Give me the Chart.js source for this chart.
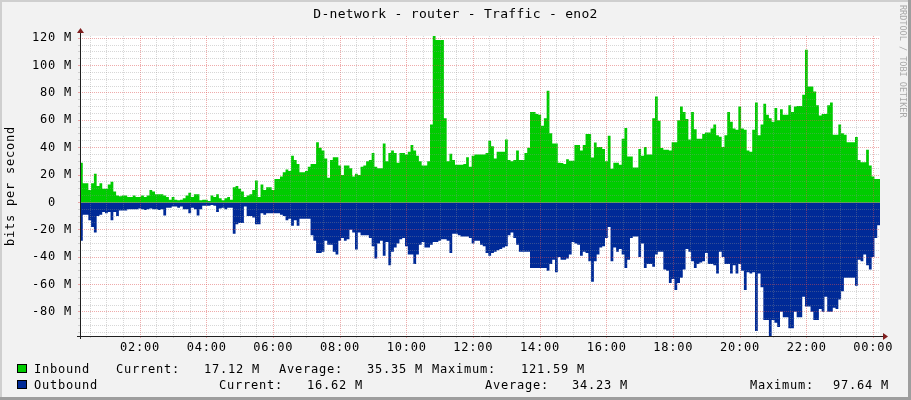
<!DOCTYPE html>
<html><head><meta charset="utf-8">
<script src="https://cdn.jsdelivr.net/npm/chart.js@4/dist/chart.umd.min.js"></script>
<style>
html,body{margin:0;padding:0;background:#F2F2F2;}
#wrap{position:relative;width:911px;height:400px;background:#F2F2F2;overflow:hidden;font-family:'DejaVu Sans Mono',monospace;color:#000;}
#c{position:absolute;left:0;top:0;}
.bt{position:absolute;left:0;top:0;width:911px;height:2px;background:#CFCFCF;}
.bl{position:absolute;left:0;top:0;width:2px;height:400px;background:#CFCFCF;}
.br{position:absolute;right:0;top:0;width:3px;height:400px;background:#9E9E9E;}
.bb{position:absolute;left:0;bottom:0;width:911px;height:3px;background:#9E9E9E;}
.t{position:absolute;font-size:12px;line-height:14px;letter-spacing:0.78px;white-space:pre;}
.title{position:absolute;left:0;top:6px;width:911px;text-align:center;font-size:13px;line-height:15px;letter-spacing:0.3px;white-space:pre;}
.box{position:absolute;width:8px;height:7px;border:1px solid #000;}
.wm{position:absolute;left:897px;top:5px;font-size:8.5px;line-height:11px;color:#A8A8A8;writing-mode:vertical-rl;white-space:pre;}
</style>
</head><body>
<div id="wrap">
  <div class="bt"></div><div class="bl"></div><div class="br"></div><div class="bb"></div>
  <canvas id="c" width="911" height="400"></canvas>
  <div class="title">D-network - router - Traffic - eno2</div>
  <div class="wm">RRDTOOL / TOBI OETIKER</div>
  <div class="box" style="left:17px;top:364px;background:#00CC00;"></div>
  <div class="t" style="left:34px;top:362px;">Inbound</div>
  <div class="t" style="left:116px;top:362px;">Current:</div>
  <div class="t" style="left:204px;top:362px;">17.12 M</div>
  <div class="t" style="left:279px;top:362px;">Average:</div>
  <div class="t" style="left:367px;top:362px;">35.35 M</div>
  <div class="t" style="left:432px;top:362px;">Maximum:</div>
  <div class="t" style="left:521px;top:362px;">121.59 M</div>
  <div class="box" style="left:17px;top:380px;background:#002A97;"></div>
  <div class="t" style="left:34px;top:378px;">Outbound</div>
  <div class="t" style="left:219px;top:378px;">Current:</div>
  <div class="t" style="left:307px;top:378px;">16.62 M</div>
  <div class="t" style="left:485px;top:378px;">Average:</div>
  <div class="t" style="left:572px;top:378px;">34.23 M</div>
  <div class="t" style="left:750px;top:378px;">Maximum:</div>
  <div class="t" style="left:833px;top:378px;">97.64 M</div>
</div>
<script>
// time axis: minutes since midnight of the first day
const START_MIN = 12;   // 00:12
const STEP_MIN = 5;     // 5-minute samples
const END_MIN = 1452;   // 00:12 next day

// Inbound traffic (Mbit/s)
const inbound = [29,14,14,9,14,21,12,14,10,10,
13,15,8,5,4.5,5,5,4,4,5,
4,4,5,4,5,9,8,6,6,6,
5,4,2,4,2,1.5,2,3,5,7,
4,6,6,1.5,2,2,1,5,4,6,
3,1.5,3,4,2,11,12,10,8,4,
5,6,9,16,4,13,9,11,11,9,
17,17,19,22,24,23,34,31,28,22,
22,23,26,28,28,44,40,38,32,18,
31,33,33,27,20,27,27,25,19,21,
20,26,27,30,31,36,26,25,25,43,
30,36,38,36,29,36,36,35,37,42,
38,34,30,27,27,30,57,121.59,118.7,118.7,
118.7,61.5,30,35.5,31,27.5,27.5,27.5,28,33,
26,34,35,35,35,35,36,45,41,32,
37,37,37,46,31,30,31,38,31,31,
36,40,66,66,64.5,64,56,61.5,81.5,50.6,
43,43,29,28.7,28,31.6,30.4,30.4,42,42,
38,42,50,50,32.8,43.8,40.4,40.4,39,30,
48.7,24.6,29,29,27.5,46.5,54.3,33.6,33.6,25.5,
25.5,39,34,40.4,35,35,61.5,77.4,59.6,39.7,
38.4,38.4,38,44,44,60,70,66,61,46,
66,53.5,46.5,46.5,50,51,51,54,57,49,
48,40.4,49,66,59,54,53,70,54,53,
38,37,53,73,49,57,72,64,61.5,59,
69,60,68,64,64,71,66,70,70.5,70.5,
78.6,111.5,84.7,84.7,81,71,63.5,64.5,64.5,71,
73,49.4,49.4,57,50.6,49.4,44,44,44,47.7,
31,29.4,29.4,38.4,27,19,17,17.12];

// Outbound traffic (Mbit/s, drawn negative)
const outbound = [-28,-9,-9,-13,-18,-22,-10,-9,-7,-8,
-7,-13,-7,-10,-6,-6,-6,-5,-5,-5,
-5,-4.5,-5,-5.5,-5,-4.5,-5,-5,-5.5,-5,
-9.5,-4,-4,-3,-3,-4,-3,-5,-5,-8,
-4,-5,-9.5,-5,-2.5,-2.5,-2.5,-2,-2.5,-7,
-4.5,-4,-5,-4,-4,-23,-16,-15,-15,-3,
-10,-10,-11,-16,-16,-8,-9,-8,-8,-8,
-8,-8,-9,-10,-13,-12,-17,-13,-17,-12,
-12,-12,-12,-24,-28,-37,-37,-36,-28,-31,
-31,-36,-38,-28,-26,-28,-27,-20,-22,-34.5,
-22,-24,-24,-24,-26,-32,-41,-30,-28,-39,
-29,-46,-36,-33,-30,-27,-26,-32,-38,-38,
-45,-38,-31,-29,-33,-33,-31,-29,-29,-28,
-27,-27,-28,-37,-23,-23,-24,-25,-25,-25,
-26,-30,-28,-28,-31,-32,-37,-39,-37,-36,
-35,-34,-33,-32,-24,-22,-26,-31,-36,-36,
-36,-36,-48,-48,-48,-48,-48,-48,-50,-45,
-42,-51,-40,-42,-42,-41,-38,-29,-30,-31,
-39,-36,-37,-43,-58,-43,-38,-33,-32,-26,
-18,-43,-33,-36,-34,-38,-48,-42,-26,-25,
-25,-40,-30,-48,-45,-45,-47,-38,-36,-36,
-49,-50,-59,-56,-64,-59,-55,-49,-34,-36,
-43,-48,-45,-44,-43,-37,-45,-45,-46,-52,
-36,-40,-45,-45,-52,-46,-52,-45,-50,-64,
-51,-52,-51,-94,-52,-62,-86,-86,-97.64,-86,
-88,-91,-80,-84,-84,-92,-92,-80,-84,-84,
-69,-76,-76,-80,-86,-86,-78,-80,-69,-80,
-80,-77,-78,-71,-65,-55,-55,-55,-55,-61,
-42,-43,-38,-46,-49,-40,-26,-16.62];

// axis labels
const timeLabels = ['02:00','04:00','06:00','08:00','10:00','12:00','14:00','16:00','18:00','20:00','22:00','00:00'];
const timeLabelMinutes = [120,240,360,480,600,720,840,960,1080,1200,1320,1440];
const yLabelValues = [120,100,80,60,40,20,0,-20,-40,-60,-80];
const yLabels = ['120 M','100 M','80 M','60 M','40 M','20 M','0  ','-20 M','-40 M','-60 M','-80 M'];
const Y_MIN = -97.64, Y_MAX = 121.59;

// each sample holds its value until the next sample (closing point repeats the last one)
function toPoints(arr){
  const pts = arr.map((v,i)=>({x: START_MIN + i*STEP_MIN, y: v}));
  pts.push({x: START_MIN + arr.length*STEP_MIN, y: arr[arr.length-1]});
  return pts;
}

const MINOR = 'rgba(143,143,143,0.36)';
const MAJOR = 'rgba(222,79,79,0.48)';
const FONT = "'DejaVu Sans Mono', monospace";

const framePlugin = {
  id: 'rrdframe',
  beforeDraw(chart){
    const {ctx, chartArea: a} = chart;
    try { ctx.letterSpacing = '0.78px'; } catch(e){}
    ctx.save();
    ctx.fillStyle = '#FFFFFF';
    ctx.fillRect(a.left, a.top, a.right - a.left, a.bottom - a.top);
    ctx.restore();
  },
  afterDraw(chart){
    const {ctx, chartArea: a} = chart;
    const xl = Math.round(a.left) + 0.5, yb = Math.round(a.bottom) + 0.5;
    ctx.save();
    ctx.strokeStyle = '#1F1F1F';
    ctx.lineWidth = 1;
    ctx.beginPath();
    ctx.moveTo(xl, a.bottom + 3); ctx.lineTo(xl, a.top - 4);
    ctx.moveTo(a.left - 3, yb); ctx.lineTo(a.right + 4, yb);
    ctx.stroke();
    ctx.fillStyle = 'rgb(128,31,31)';
    ctx.beginPath();
    ctx.moveTo(xl, a.top - 8); ctx.lineTo(xl - 3.5, a.top - 3); ctx.lineTo(xl + 3.5, a.top - 3); ctx.closePath();
    ctx.fill();
    ctx.beginPath();
    ctx.moveTo(a.right + 8, yb); ctx.lineTo(a.right + 3, yb - 3.5); ctx.lineTo(a.right + 3, yb + 3.5); ctx.closePath();
    ctx.fill();
    ctx.restore();
  }
};

Chart.defaults.font.family = FONT;
Chart.defaults.font.size = 12;
Chart.defaults.color = '#000';

new Chart(document.getElementById('c'), {
  type: 'line',
  data: {
    datasets: [
      {label:'Inbound', data: toPoints(inbound), stepped:'before', fill:'origin',
       backgroundColor:'#00CC00', borderColor:'rgba(0,0,0,0)', borderWidth:0, pointRadius:0},
      {label:'Outbound', data: toPoints(outbound), stepped:'before', fill:'origin',
       backgroundColor:'#002A97', borderColor:'rgba(0,0,0,0)', borderWidth:0, pointRadius:0}
    ]
  },
  options: {
    responsive:false, animation:false, events:[],
    layout:{padding:{left:0, right:31, top:36, bottom:44}},
    plugins:{legend:{display:false}, title:{display:false}, tooltip:{enabled:false}},
    scales:{
      x:{
        type:'linear', min:START_MIN, max:END_MIN,
        afterFit(s){ s.height = 20; },
        afterBuildTicks(s){ const t=[]; for(let m=30;m<=1440;m+=30) t.push({value:m}); s.ticks=t; },
        ticks:{autoSkip:false, maxRotation:0, padding:3, color:'#000',
          callback(v){ const k=timeLabelMinutes.indexOf(v); return k>=0 ? timeLabels[k] : ''; }},
        grid:{z:1, lineWidth:1, drawTicks:true, tickLength:2,
          color(c){ return c.tick && c.tick.value % 120 === 0 ? MAJOR : MINOR; },
          tickColor(c){ return c.tick && c.tick.value % 120 === 0 ? MAJOR : MINOR; }},
        border:{display:false, dash:[1,1]}
      },
      y:{
        type:'linear', min:Y_MIN, max:Y_MAX,
        afterFit(s){ s.width = 80; },
        afterBuildTicks(s){ const t=[]; for(let v=-95;v<=120;v+=5) t.push({value:v}); s.ticks=t; },
        ticks:{autoSkip:false, padding:6, color:'#000',
          callback(v){ const k=yLabelValues.indexOf(v); return k>=0 ? yLabels[k] : ''; }},
        grid:{z:1, lineWidth:1, drawTicks:true, tickLength:2,
          color(c){ return c.tick && c.tick.value % 20 === 0 ? MAJOR : MINOR; },
          tickColor(c){ return c.tick && c.tick.value % 20 === 0 ? MAJOR : MINOR; }},
        border:{display:false, dash:[1,1]},
        title:{display:true, text:'bits per second', color:'#000', padding:{top:4,bottom:0}, font:{family:FONT,size:12}}
      }
    }
  },
  plugins:[framePlugin]
});
</script>
</body></html>
